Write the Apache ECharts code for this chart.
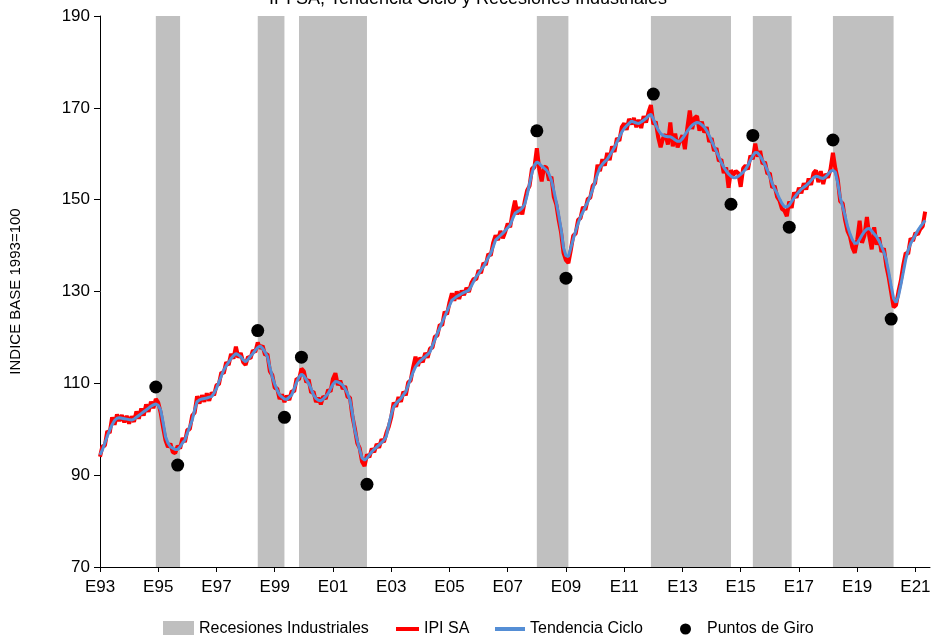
<!DOCTYPE html>
<html>
<head>
<meta charset="utf-8">
<script src="https://cdn.jsdelivr.net/npm/echarts@6/dist/echarts.min.js"></script>
<style>html,body{margin:0;padding:0;background:#fff}#c{width:936px;height:635px}</style>
</head>
<body>
<div id="c"></div>
<script>
// Monthly data, Jan 1993 (index 0) to May 2021 (index 340)
const ipiSA = [
94.0,96.3,96.4,99.6,99.2,102.6,101.0,103.2,101.8,103.1,101.5,102.9,
101.2,102.8,101.6,103.9,102.3,104.5,103.0,105.4,103.8,106.0,104.6,106.6,
105.8,103.6,100.4,97.6,96.1,96.9,95.0,94.8,96.4,95.8,98.1,97.2,
99.9,100.0,103.0,103.6,107.2,105.6,107.4,106.0,107.8,106.2,108.0,107.4,
109.6,109.8,112.4,112.2,114.6,114.0,116.4,115.4,118.0,115.6,116.6,114.6,
114.0,115.8,115.4,117.2,116.8,118.9,117.6,118.2,116.2,116.4,112.6,111.8,
109.0,108.9,106.6,107.6,105.9,107.3,106.4,108.3,108.2,111.0,110.8,113.2,
112.6,110.2,110.8,108.0,108.2,105.9,106.9,105.4,107.2,106.6,108.6,108.2,
111.0,112.2,109.6,110.6,108.8,109.4,107.0,106.9,102.8,100.2,97.0,95.9,
92.9,92.0,94.5,93.9,95.8,95.0,96.8,96.0,97.8,97.2,99.2,100.6,
102.6,105.8,104.9,107.0,106.0,108.2,107.4,110.2,110.6,113.4,115.8,113.8,
115.6,114.6,116.6,115.6,117.6,117.8,120.2,120.4,122.8,122.6,125.6,125.0,
127.6,129.6,128.0,130.0,128.4,130.2,129.2,130.8,129.9,131.8,132.8,132.6,
134.6,134.0,136.2,135.8,138.2,137.8,140.6,142.2,141.2,143.2,141.6,143.0,
144.8,144.0,147.2,149.8,146.8,148.4,146.8,149.6,152.0,153.0,156.8,157.0,
161.2,156.6,154.0,157.2,157.0,154.2,155.0,150.6,149.0,145.6,142.8,138.4,
136.8,136.2,139.0,142.2,142.6,145.6,146.0,148.4,147.8,150.2,150.4,153.0,
153.6,157.6,156.2,158.8,157.4,160.2,158.6,161.6,160.4,163.4,162.8,165.8,
166.6,165.2,167.6,166.4,167.8,165.8,167.4,165.6,168.2,166.8,169.0,170.6,
166.4,167.0,163.6,161.4,163.4,164.2,162.0,166.8,161.6,164.4,161.4,162.8,
164.0,161.0,165.6,169.4,165.4,167.8,168.2,165.0,167.0,164.6,165.8,162.6,
163.4,160.6,161.2,158.4,158.8,155.8,157.0,152.6,156.4,155.4,156.2,155.8,
152.8,156.8,157.4,156.6,159.6,158.8,162.2,159.4,160.6,157.8,158.2,155.6,
155.8,152.6,153.0,150.6,149.8,148.0,147.6,146.4,149.6,148.2,151.6,150.4,
152.6,151.4,153.6,152.2,154.6,153.2,155.8,156.4,153.8,156.2,153.4,155.6,
154.8,156.6,160.2,156.8,154.4,149.6,149.2,145.6,143.2,142.0,139.6,138.4,
141.2,145.4,140.6,142.2,146.2,142.0,139.2,144.0,140.2,141.8,138.6,139.4,
135.6,133.0,129.8,126.6,127.0,130.0,132.4,135.8,138.4,138.2,141.6,141.0,
142.8,142.4,143.6,144.2,147.4
];
const tendenciaCiclo = [
94.4,95.5,97.0,98.5,99.8,101.0,101.9,102.4,102.5,102.4,102.3,102.2,
102.1,102.0,102.2,102.6,103.0,103.4,103.8,104.2,104.6,105.0,105.3,105.5,
105.2,104.2,101.5,98.4,97.0,96.2,95.9,95.6,95.6,96.2,97.0,97.7,
99.2,100.6,102.0,104.2,106.0,106.4,106.6,106.7,106.8,107.0,107.1,107.9,
108.9,110.3,111.6,112.9,113.8,114.6,115.4,116.0,116.5,116.2,115.8,115.1,
114.7,115.2,115.9,116.5,117.2,117.8,118.1,117.6,116.8,115.8,113.5,111.4,
109.8,108.5,107.5,107.0,106.6,106.5,107.0,107.5,108.8,110.2,111.4,112.0,
111.6,110.8,110.0,108.8,107.5,106.7,106.3,106.2,106.6,107.2,107.8,108.8,
109.8,110.4,110.3,110.0,109.6,108.8,107.8,106.4,103.5,99.8,97.6,95.5,
93.7,93.3,93.7,94.4,95.1,95.6,96.1,96.6,97.1,97.6,98.5,101.0,
103.2,104.9,105.6,106.2,106.7,107.5,108.2,109.6,111.0,112.4,113.6,114.3,
114.9,115.4,115.8,116.3,116.9,118.2,119.5,120.9,122.1,123.3,124.5,125.7,
126.9,128.1,128.5,128.9,129.2,129.5,129.8,130.0,130.3,131.2,132.2,133.2,
133.9,134.7,135.4,136.4,137.4,138.3,139.7,141.2,141.7,142.2,142.7,143.3,
143.9,144.5,145.8,147.0,147.4,147.7,148.2,149.0,151.0,153.5,155.8,157.5,
158.2,157.9,157.3,156.9,156.4,155.6,154.2,152.0,149.5,146.7,143.5,139.5,
137.8,137.6,139.5,141.4,143.2,144.8,146.3,147.3,148.5,149.5,150.8,152.2,
154.0,155.6,157.0,157.7,158.3,158.8,159.6,160.5,161.4,162.5,163.6,164.7,
165.5,166.1,166.6,167.1,166.9,166.7,166.6,166.9,167.3,167.7,168.3,168.6,
167.6,166.3,165.2,164.4,164.0,163.8,163.7,163.7,163.4,163.0,162.7,162.7,
163.3,164.1,164.9,165.6,166.2,166.6,166.8,166.7,166.3,165.8,165.0,164.0,
162.8,161.6,160.5,159.3,158.1,157.1,156.3,155.6,155.1,154.8,154.8,155.1,
155.5,156.0,156.6,157.5,158.6,159.6,160.3,160.2,159.5,158.6,157.6,156.4,
155.0,153.5,152.3,151.4,150.2,149.2,148.5,148.4,148.8,149.6,150.4,151.1,
151.7,152.3,152.7,153.1,153.6,154.2,154.8,155.1,155.0,154.7,154.6,155.0,
155.6,156.2,156.4,156.0,153.6,150.5,148.5,146.5,144.3,142.6,141.3,140.5,
140.5,141.4,142.3,143.1,143.6,143.7,143.2,142.5,141.9,141.0,139.8,138.6,
136.8,134.2,131.2,128.5,127.6,129.0,131.5,134.2,137.0,139.0,140.4,141.4,
142.3,143.3,144.1,144.8,145.5
];
// Turning points: month index and value
const giroMes = [23, 32, 65, 76, 83, 110, 180, 192, 228, 260, 269, 284, 302, 326];
const giroValor = [109.2, 92.2, 121.5, 102.6, 115.7, 88.0, 165.0, 132.9, 173.0, 149.0, 164.0, 144.0, 163.0, 124.0];
// Industrial recessions: start and end month index
const recesionInicio = [23, 65, 82, 180, 227, 269, 302];
const recesionFin = [33, 76, 110, 193, 260, 285, 327];
// Axis tick labels
const xTickLabels = ['E93','E95','E97','E99','E01','E03','E05','E07','E09','E11','E13','E15','E17','E19','E21'];
const yTicks = [70, 90, 110, 130, 150, 170, 190];

const FONT = "'Liberation Sans', Arial, sans-serif";
const chart = echarts.init(document.getElementById('c'), null, {renderer: 'canvas'});
const legendText = {fontSize: 16, color: '#000', fontFamily: FONT};
chart.setOption({
  animation: false,
  backgroundColor: '#fff',
  title: {
    text: 'IPI SA, Tendencia Ciclo y Recesiones Industriales',
    left: 'center', top: -15,
    textStyle: {fontSize: 18, fontWeight: 'normal', color: '#000', fontFamily: FONT}
  },
  legend: [
    {data: ['Recesiones Industriales'], left: 158, top: 616, icon: 'rect', itemWidth: 31, itemHeight: 16, textStyle: legendText},
    {data: ['IPI SA'], left: 391, top: 616, icon: 'rect', itemWidth: 23, itemHeight: 4, textStyle: legendText},
    {data: ['Tendencia Ciclo'], left: 490, top: 616, icon: 'rect', itemWidth: 30, itemHeight: 4, textStyle: legendText},
    {data: ['Puntos de Giro'], left: 675, top: 616, icon: 'circle', itemWidth: 11, itemHeight: 11,
     textStyle: Object.assign({padding: [0, 0, 0, 11]}, legendText)}
  ],
  grid: {left: 99, right: 6, top: 16, bottom: 68, containLabel: false},
  xAxis: {
    type: 'value', min: 0, max: 342, interval: 24,
    axisLine: {lineStyle: {color: '#000', width: 1}},
    axisTick: {show: true, length: 5, lineStyle: {color: '#000'}},
    splitLine: {show: false},
    axisLabel: {
      margin: 12, fontSize: 17, color: '#000', fontFamily: FONT,
      formatter: function (v) { const i = Math.round(v / 24); return xTickLabels[i] || ''; }
    }
  },
  yAxis: {
    type: 'value', min: yTicks[0], max: yTicks[yTicks.length - 1], interval: 20,
    name: 'INDICE BASE 1993=100', nameLocation: 'middle', nameGap: 77, nameRotate: 90,
    nameTextStyle: {fontSize: 15, color: '#000', fontFamily: FONT},
    axisLine: {show: true, lineStyle: {color: '#000', width: 1}},
    axisTick: {show: true, length: 6, lineStyle: {color: '#000'}},
    splitLine: {show: false},
    axisLabel: {margin: 10, fontSize: 17, color: '#000', fontFamily: FONT}
  },
  series: [
    {
      name: 'Recesiones Industriales', type: 'line', data: [], symbol: 'none',
      itemStyle: {color: '#bfbfbf'}, lineStyle: {color: '#bfbfbf'},
      markArea: {
        silent: true,
        itemStyle: {color: '#c0c0c0', opacity: 1},
        data: recesionInicio.map((s, i) => [{xAxis: s}, {xAxis: recesionFin[i]}])
      },
      z: 1
    },
    {
      name: 'IPI SA', type: 'line', symbol: 'none',
      data: ipiSA.map((v, i) => [i, v]),
      lineStyle: {color: '#ff0000', width: 4}, itemStyle: {color: '#ff0000'}, z: 3
    },
    {
      name: 'Tendencia Ciclo', type: 'line', symbol: 'none',
      data: tendenciaCiclo.map((v, i) => [i, v]),
      lineStyle: {color: '#558ed5', width: 3}, itemStyle: {color: '#558ed5'}, z: 4
    },
    {
      name: 'Puntos de Giro', type: 'scatter', symbol: 'circle', symbolSize: 13,
      data: giroMes.map((m, i) => [m, giroValor[i]]),
      itemStyle: {color: '#000', opacity: 1}, z: 5
    }
  ]
});
</script>
</body>
</html>
